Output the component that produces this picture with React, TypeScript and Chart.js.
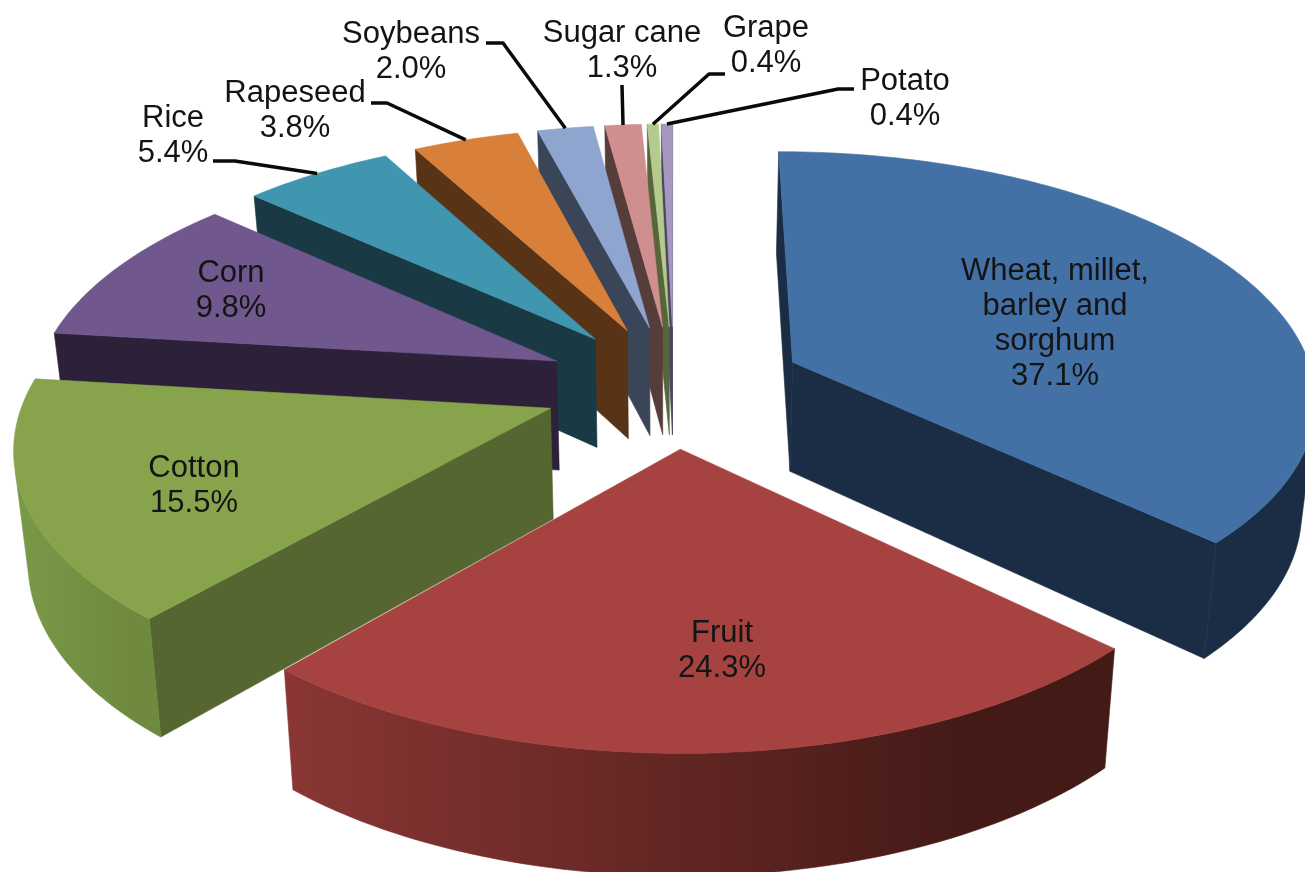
import React, { useEffect, useRef } from "react";
import { Chart, registerables } from "chart.js";

Chart.register(...registerables);

const categories = ["Wheat, millet, barley and sorghum", "Fruit", "Cotton", "Corn", "Rice", "Rapeseed", "Soybeans", "Sugar cane", "Grape", "Potato"];
const shares = [37.1, 24.3, 15.5, 9.8, 5.4, 3.8, 2.0, 1.3, 0.4, 0.4];
const topColors = ["#4371a6", "#a64341", "#87a44d", "#70578d", "#3f96ae", "#d8803a", "#8ea6cf", "#cf8f8e", "#b4cb8d", "#a597c0"];
const sideColors = ["#1b2d44", "#441a17", "#556630", "#2d2139", "#193a45", "#583316", "#3a4658", "#573c3c", "#56663a", "#4b4560"];
const rimLeft = ["#1b2d44", "#8a3634", "#7a9a48", "#2d2139", "#193a45", "#583316", "#3a4658", "#573c3c", "#56663a", "#4b4560"];
const rimRight = ["#1b2d44", "#441a17", "#6f8a3f", "#2d2139", "#193a45", "#583316", "#3a4658", "#573c3c", "#56663a", "#4b4560"];
const labelLines = [
  ["Wheat, millet,", "barley and", "sorghum", "37.1%"],
  ["Fruit", "24.3%"],
  ["Cotton", "15.5%"],
  ["Corn", "9.8%"],
  ["Rice", "5.4%"],
  ["Rapeseed", "3.8%"],
  ["Soybeans", "2.0%"],
  ["Sugar cane", "1.3%"],
  ["Grape", "0.4%"],
  ["Potato", "0.4%"],
];
const labelAnchors: [number, number][] = [[1055, 271.5], [722, 633.5], [194, 468.5], [231, 273.5], [173, 118], [295, 93], [411, 34.5], [622, 33.5], [766, 28.5], [905, 81.5]];
const leaderStarts: ([number, number][] | null)[] = [
  null, null, null, null,
  [[213, 161], [235, 161]],
  [[371, 103], [387, 103]],
  [[486, 43], [503, 43]],
  [[622, 85]],
  [[725, 74], [709, 74]],
  [[854, 89], [838, 89]],
];

const CX = 674, HORIZON = -1440, S = 1826, P = 0.134, R = 523, EXPLODE = 0.25, DEPTH = 110, SHRINK = 0.978;

type Pt = [number, number];
const project = (u: number, v: number): Pt => {
  const w = 1 - P * v;
  return [CX + (R * u) / w, HORIZON + S / w];
};
const drop = (u: number, v: number): Pt => {
  const w = 1 - P * v;
  const [x, y] = project(u, v);
  return [CX + (x - CX) * SHRINK, y + DEPTH / Math.pow(w, 0.6)];
};
const poly = (ctx: CanvasRenderingContext2D, pts: Pt[], color: any) => {
  ctx.beginPath();
  pts.forEach((p, i) => (i ? ctx.lineTo(p[0], p[1]) : ctx.moveTo(p[0], p[1])));
  ctx.closePath();
  ctx.fillStyle = color;
  ctx.strokeStyle = color;
  ctx.lineWidth = 0.6;
  ctx.fill();
  ctx.stroke();
};
const area = (p: Pt[]) => {
  let a = 0;
  p.forEach((q, i) => {
    const r = p[(i + 1) % p.length];
    a += q[0] * r[1] - r[0] * q[1];
  });
  return a / 2;
};

const sliceGeom = (el: any) => {
  const a0 = el.startAngle + Math.PI / 2;
  const a1 = el.endAngle + Math.PI / 2;
  const mid = (a0 + a1) / 2;
  const ou = EXPLODE * Math.sin(mid), ov = -EXPLODE * Math.cos(mid);
  const uv: Pt[] = [];
  const n = Math.max(2, Math.ceil((a1 - a0) / (Math.PI / 180)));
  for (let i = 0; i <= n; i++) {
    const t = a0 + ((a1 - a0) * i) / n;
    uv.push([ou + Math.sin(t), ov - Math.cos(t)]);
  }
  return { apex: [ou, ov] as Pt, uv, mid };
};

const pie3d = {
  id: "pie3d",
  beforeDatasetsDraw(chart: any) {
    const ctx: CanvasRenderingContext2D = chart.ctx;
    const arcs: any[] = chart.getDatasetMeta(0).data;
    const order = arcs.map((_, i) => i);
    const depthOf = (i: number) => -Math.cos(sliceGeom(arcs[i]).mid);
    order.sort((a, b) => depthOf(a) - depthOf(b));
    ctx.save();
    for (const i of order) {
      const { apex, uv } = sliceGeom(arcs[i]);
      const top = uv.map((q) => project(q[0], q[1]));
      const low = uv.map((q) => drop(q[0], q[1]));
      const ta = project(apex[0], apex[1]);
      const la = drop(apex[0], apex[1]);
      const last = uv.length - 1;
      const walls: Pt[][] = [[ta, top[0], low[0], la], [top[last], ta, la, low[last]]];
      for (const w of walls) if (area(w) < 0) poly(ctx, w, sideColors[i]);
      const xs = top.map((p) => p[0]);
      const minX = Math.min(...xs), maxX = Math.max(...xs);
      const grad = ctx.createLinearGradient(minX, 0, maxX, 0);
      grad.addColorStop(0, rimLeft[i]);
      grad.addColorStop(0.82, rimRight[i]);
      grad.addColorStop(1, rimRight[i]);
      const visible: number[] = [];
      for (let k = 0; k <= last; k++) {
        const a = k < last ? k : k - 1;
        if (area([top[a], top[a + 1], low[a + 1], low[a]]) < 0) visible.push(k);
      }
      if (visible.length > 1) {
        poly(ctx, [...visible.map((k) => top[k]), ...visible.slice().reverse().map((k) => low[k])], grad);
      }
      poly(ctx, [ta, ...top], arcs[i].options.backgroundColor);
    }
    ctx.font = "31px 'Liberation Sans'";
    ctx.textAlign = "center";
    ctx.textBaseline = "middle";
    ctx.fillStyle = "#141414";
    labelLines.forEach((lines, i) => {
      lines.forEach((s, j) => ctx.fillText(s, labelAnchors[i][0], labelAnchors[i][1] + j * 35));
    });
    ctx.strokeStyle = "#0a0a0a";
    ctx.lineWidth = 3.5;
    ctx.lineJoin = "round";
    leaderStarts.forEach((start, i) => {
      if (!start) return;
      const { mid } = sliceGeom(arcs[i]);
      const e = 1 + EXPLODE;
      const end = project(e * Math.sin(mid), -e * Math.cos(mid));
      ctx.beginPath();
      start.forEach((p, k) => (k ? ctx.lineTo(p[0], p[1]) : ctx.moveTo(p[0], p[1])));
      ctx.lineTo(end[0], end[1]);
      ctx.stroke();
    });
    ctx.restore();
    return false;
  },
};

export default function App() {
  const ref = useRef<HTMLCanvasElement>(null);
  useEffect(() => {
    const chart = new Chart(ref.current!, {
      type: "pie",
      data: { labels: categories, datasets: [{ data: shares, backgroundColor: topColors, borderWidth: 0 }] },
      options: {
        animation: false,
        responsive: false,
        devicePixelRatio: 1,
        events: [],
        plugins: { legend: { display: false }, tooltip: { enabled: false } },
      },
      plugins: [pie3d],
    } as any);
    return () => chart.destroy();
  }, []);
  return (
    <canvas
      ref={ref}
      width={1305}
      height={872}
      style={{ position: "absolute", left: 0, top: 0, width: 1305, height: 872, background: "#fff", filter: "blur(0.5px)" }}
    />
  );
}
